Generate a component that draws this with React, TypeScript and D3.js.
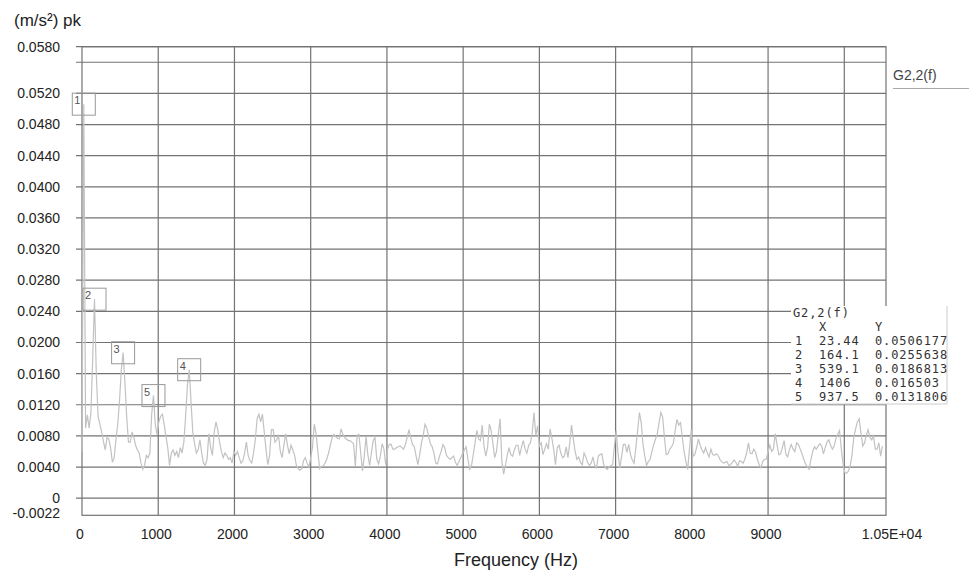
import React, { useEffect, useRef } from "react";
import * as d3 from "d3";

const width = 969;
const height = 574;
const margin = { top: 46.7, right: 83, bottom: 58.7, left: 82 };

// FFT bin spacing of the spectrum
const binHz = 23.4375;

// amplitude per bin, (m/s²) pk
const amplitude = [
  0.006, 0.0506, 0.009, 0.0107, 0.009, 0.011, 0.018, 0.0256, 0.016, 0.0105,
  0.0095, 0.0085, 0.0073, 0.0062, 0.0078, 0.0076, 0.0065, 0.0046, 0.0052, 0.0075,
  0.0095, 0.0125, 0.0165, 0.0187, 0.015, 0.0105, 0.0072, 0.0072, 0.0085, 0.0078,
  0.0068, 0.0062, 0.0058, 0.0045, 0.0037, 0.0042, 0.0055, 0.0052, 0.0058, 0.0108,
  0.0132, 0.0095, 0.0082, 0.0098, 0.0105, 0.0108, 0.0095, 0.0079, 0.0065, 0.0042,
  0.0058, 0.0062, 0.0055, 0.006, 0.0052, 0.0065, 0.0058, 0.0072, 0.0105, 0.0145,
  0.0165, 0.0125, 0.0085, 0.007, 0.0058, 0.0062, 0.0075, 0.0058, 0.0045, 0.0042,
  0.005, 0.0083, 0.0065, 0.0055, 0.0085, 0.0098, 0.0088, 0.0072, 0.006, 0.0052,
  0.0058, 0.0055, 0.005, 0.0052, 0.0045, 0.006, 0.0055, 0.006, 0.0052, 0.0045,
  0.0048, 0.0058, 0.0072, 0.0055, 0.0048, 0.0045, 0.0058, 0.0075, 0.0102, 0.0108,
  0.0098, 0.0108, 0.0085, 0.0062, 0.0043, 0.0055, 0.0088, 0.0088, 0.0072, 0.0075,
  0.008, 0.006, 0.0052, 0.0068, 0.0083, 0.0068, 0.0057, 0.0068, 0.0062, 0.0055,
  0.0042, 0.0038, 0.0036, 0.0038, 0.0048, 0.0052, 0.0045, 0.004, 0.0052, 0.0065,
  0.0095, 0.0083, 0.006, 0.0038, 0.0041, 0.0041, 0.0045, 0.005, 0.0058, 0.0068,
  0.0078, 0.0082, 0.0079, 0.0077, 0.0076, 0.0089, 0.0082, 0.0078, 0.0076, 0.0074,
  0.0074, 0.0072, 0.007, 0.0041, 0.0081, 0.0082, 0.0058, 0.0035, 0.0054, 0.0079,
  0.0056, 0.0042, 0.0058, 0.0074, 0.0078, 0.005, 0.0044, 0.0054, 0.007, 0.0063,
  0.0043, 0.0063, 0.0069, 0.0069, 0.0063, 0.0063, 0.0065, 0.0066, 0.0067, 0.0065,
  0.0063, 0.0069, 0.0078, 0.0088, 0.0078, 0.0069, 0.0066, 0.0054, 0.0043, 0.0056,
  0.0071, 0.0081, 0.0095, 0.009, 0.0079, 0.007, 0.0066, 0.0058, 0.0045, 0.0044,
  0.0053, 0.006, 0.0069, 0.0065, 0.0055, 0.0052, 0.005, 0.0052, 0.0054, 0.0046,
  0.0042, 0.0047, 0.0052, 0.0057, 0.0062, 0.0066, 0.005, 0.0037, 0.0042, 0.0056,
  0.0071, 0.0087, 0.0076, 0.0074, 0.0094, 0.0067, 0.0054, 0.0065, 0.0095, 0.0087,
  0.007, 0.0052, 0.006, 0.0082, 0.0102, 0.0047, 0.0031, 0.0042, 0.0055, 0.0065,
  0.0056, 0.0054, 0.0062, 0.0068, 0.0068, 0.0055, 0.0066, 0.0074, 0.0063, 0.0058,
  0.0068, 0.0071, 0.0084, 0.011, 0.008, 0.0093, 0.0067, 0.0071, 0.0056, 0.0063,
  0.007, 0.0063, 0.0089, 0.0077, 0.0063, 0.0043, 0.0065, 0.0068, 0.0058, 0.0052,
  0.0054, 0.0066, 0.0052, 0.0071, 0.0094, 0.0076, 0.006, 0.005, 0.0053, 0.0046,
  0.0043, 0.0058, 0.0053, 0.0046, 0.0042, 0.0045, 0.0053, 0.0042, 0.0039, 0.0054,
  0.0056, 0.0057, 0.0043, 0.0039, 0.0037, 0.004, 0.0042, 0.0043, 0.0067, 0.0087,
  0.0058, 0.0039, 0.0053, 0.0069, 0.0069, 0.0059, 0.0069, 0.0056, 0.0049, 0.0045,
  0.0065, 0.0087, 0.011, 0.0097, 0.0069, 0.0054, 0.0042, 0.0047, 0.005, 0.006,
  0.0069, 0.0076, 0.0083, 0.0097, 0.011, 0.0104, 0.0078, 0.0056, 0.0057, 0.0063,
  0.0066, 0.0071, 0.0087, 0.0101, 0.0094, 0.0097, 0.0078, 0.006, 0.0047, 0.0037,
  0.0063, 0.0088, 0.0054, 0.0056, 0.0065, 0.0076, 0.0068, 0.0062, 0.0058, 0.0065,
  0.0058, 0.0053, 0.0063, 0.0056, 0.0055, 0.0057, 0.0055, 0.005, 0.0047, 0.0045,
  0.0046, 0.0047, 0.0042, 0.0043, 0.0046, 0.0049, 0.0046, 0.0041, 0.0048, 0.0047,
  0.0045, 0.005, 0.0058, 0.0071, 0.0058, 0.0057, 0.0063, 0.0059, 0.005, 0.0043,
  0.0039, 0.0047, 0.005, 0.005, 0.006, 0.0068, 0.006, 0.0063, 0.0083, 0.0069,
  0.0056, 0.0057, 0.0065, 0.0074, 0.0056, 0.0053, 0.0063, 0.0069, 0.0063, 0.006,
  0.0071, 0.0069, 0.0063, 0.0057, 0.005, 0.0044, 0.004, 0.0037, 0.005, 0.006,
  0.0066, 0.0063, 0.0067, 0.007, 0.0067, 0.0057, 0.0065, 0.0072, 0.0075, 0.0068,
  0.0063, 0.0067, 0.0077, 0.0082, 0.0087, 0.0063, 0.0043, 0.0033, 0.0032, 0.0035,
  0.0042, 0.0056, 0.0078, 0.0089, 0.0098, 0.0102, 0.0083, 0.0067, 0.0071, 0.0081,
  0.0088, 0.0078, 0.0075, 0.008, 0.0063, 0.0063, 0.0071, 0.0054, 0.0067,
];

const xMax = 10547;
const yMin = -0.0022;
const yMax = 0.058;

const xTickValues = [0, 1000, 2000, 3000, 4000, 5000, 6000, 7000, 8000, 9000];
const xGridValues = [1000, 2000, 3000, 4000, 5000, 6000, 7000, 8000, 9000, 10000];
const xEndLabel = "1.05E+04";

const yGridValues = [0.058, 0.056, 0.052, 0.048, 0.044, 0.04, 0.036, 0.032, 0.028, 0.024, 0.02, 0.016, 0.012, 0.008, 0.004, 0];
const yTickValues = [0.058, 0.052, 0.048, 0.044, 0.04, 0.036, 0.032, 0.028, 0.024, 0.02, 0.016, 0.012, 0.008, 0.004, 0, -0.0022];

// peak markers
const peakIds = [1, 2, 3, 4, 5];
const peakX = [23.44, 164.1, 539.1, 1406, 937.5];
const peakXText = ["23.44", "164.1", "539.1", "1406", "937.5"];
const peakY = [0.0506177, 0.0255638, 0.0186813, 0.016503, 0.0131806];
const peakYText = ["0.0506177", "0.0255638", "0.0186813", "0.016503", "0.0131806"];

const seriesName = "G2,2(f)";
const yAxisTitle = "(m/s²) pk";
const xAxisTitle = "Frequency (Hz)";

const sans = "'Liberation Sans', Arial, sans-serif";
const mono = "'DejaVu Sans Mono', monospace";

export default function App() {
  const ref = useRef<SVGSVGElement | null>(null);

  useEffect(() => {
    const svg = d3.select(ref.current);
    svg.selectAll("*").remove();

    const x = d3.scaleLinear().domain([0, xMax]).range([margin.left, width - margin.right]);
    const y = d3.scaleLinear().domain([yMin, yMax]).range([height - margin.bottom, margin.top]);
    const x0 = x(0), x1 = x(xMax), yTop = y(yMax), yBot = y(yMin);

    svg.append("rect").attr("width", width).attr("height", height).attr("fill", "#fff");

    const grid = svg.append("g").attr("stroke", "#737373").attr("stroke-width", 1.2);
    grid.selectAll("line.h").data(yGridValues).join("line")
      .attr("class", "h")
      .attr("x1", x0 - 6).attr("x2", x1)
      .attr("y1", d => y(d)).attr("y2", d => y(d));
    grid.selectAll("line.v").data(xGridValues).join("line")
      .attr("class", "v")
      .attr("x1", d => x(d)).attr("x2", d => x(d))
      .attr("y1", yTop).attr("y2", yBot);
    grid.append("rect")
      .attr("x", x0).attr("y", yTop)
      .attr("width", x1 - x0).attr("height", yBot - yTop)
      .attr("fill", "none");

    // y labels (plain hyphen for the minus, as in the source chart)
    const fmt = d3.format(".4f");
    svg.append("g").selectAll("text").data(yTickValues).join("text")
      .attr("x", 60)
      .attr("y", d => (d === yMin ? y(d) - 2 : y(d)))
      .attr("dy", "0.35em")
      .attr("text-anchor", "end")
      .attr("font-family", sans).attr("font-size", 14).attr("fill", "#222")
      .text(d => (d === 0 ? "0" : fmt(d).replace("−", "-")));

    // x labels
    svg.append("g").selectAll("text").data(xTickValues).join("text")
      .attr("x", d => x(d) - 2)
      .attr("y", 539)
      .attr("text-anchor", "middle")
      .attr("font-family", sans).attr("font-size", 14).attr("fill", "#222")
      .text(d => String(d));
    svg.append("text")
      .attr("x", x(xMax) + 6).attr("y", 539)
      .attr("text-anchor", "middle")
      .attr("font-family", sans).attr("font-size", 14).attr("fill", "#222")
      .text(xEndLabel);

    svg.append("text")
      .attr("x", 14).attr("y", 26)
      .attr("font-family", sans).attr("font-size", 17).attr("fill", "#222")
      .text(yAxisTitle);
    svg.append("text")
      .attr("x", 516).attr("y", 566)
      .attr("text-anchor", "middle")
      .attr("font-family", sans).attr("font-size", 18).attr("fill", "#222")
      .text(xAxisTitle);

    // spectrum
    const line = d3.line<number>()
      .x((d, i) => x(i * binHz))
      .y(d => y(d));
    svg.append("path")
      .datum(amplitude)
      .attr("fill", "none")
      .attr("stroke", "#c2c2c2")
      .attr("stroke-width", 1.2)
      .attr("d", line);

    // peak markers
    const mk = svg.append("g").selectAll("g").data(peakIds).join("g")
      .attr("transform", (d, i) => `translate(${x(peakX[i])},${y(peakY[i])})`);
    mk.append("rect")
      .attr("x", -11.5).attr("y", -11)
      .attr("width", 23).attr("height", 22)
      .attr("fill", "none").attr("stroke", "#999").attr("stroke-width", 1);
    mk.append("text")
      .attr("x", -9.5).attr("y", 0)
      .attr("font-family", sans).attr("font-size", 11).attr("fill", "#555")
      .text(d => String(d));

    // marker table
    const tb = svg.append("g");
    tb.append("rect")
      .attr("x", 791).attr("y", 306)
      .attr("width", 156).attr("height", 98)
      .attr("fill", "#fff");
    tb.append("path")
      .attr("d", "M947,306V404H791")
      .attr("fill", "none").attr("stroke", "#ccc");
    const tt = (tx: number, ty: number, s: string) =>
      tb.append("text")
        .attr("x", tx).attr("y", ty)
        .attr("font-family", mono).attr("font-size", 12)
        .attr("letter-spacing", 0.9).attr("fill", "#333")
        .text(s);
    tt(793, 317, seriesName);
    tt(819, 331, "X");
    tt(875, 331, "Y");
    peakIds.forEach((id, i) => {
      const ty = 345 + i * 14;
      tt(795, ty, String(id));
      tt(819, ty, peakXText[i]);
      tt(875, ty, peakYText[i]);
    });

    // series legend
    svg.append("text")
      .attr("x", 893).attr("y", 80)
      .attr("font-family", sans).attr("font-size", 14).attr("fill", "#444")
      .text(seriesName);
    svg.append("line")
      .attr("x1", 893).attr("x2", 969)
      .attr("y1", 88.5).attr("y2", 88.5)
      .attr("stroke", "#aaa");
  }, []);

  return (
    <svg
      ref={ref}
      width={width}
      height={height}
      style={{ position: "absolute", left: 0, top: 0 }}
    />
  );
}
